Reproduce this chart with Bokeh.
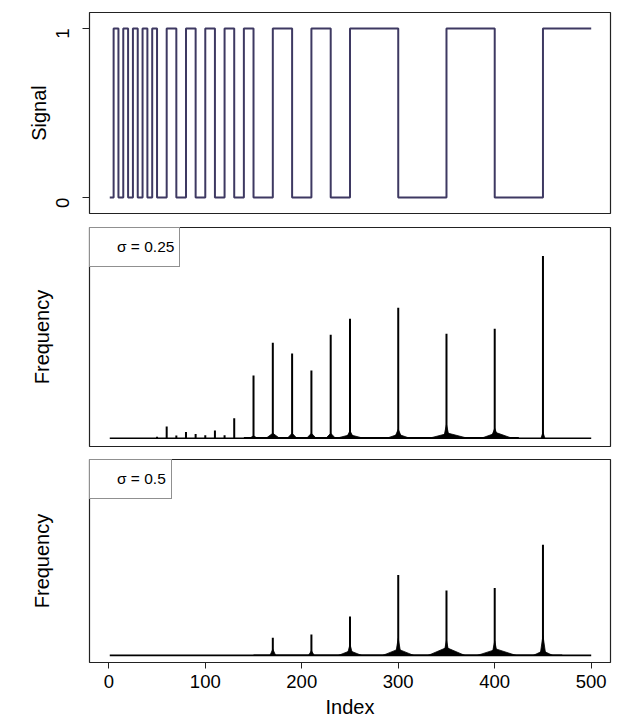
import numpy as np
from bokeh.plotting import figure
from bokeh.layouts import column
from bokeh.models import FixedTicker, Range1d, Legend, LegendItem
from bokeh.embed import file_html
from bokeh.resources import INLINE

# ---------------- data ----------------
# step signal: index where the level changes, and the level from that index on
signal_index = [1, 5, 10, 15, 20, 25, 30, 35, 40, 45, 50, 60, 70, 80, 90, 100, 110,
                120, 130, 140, 150, 170, 190, 210, 230, 250, 300, 350, 400, 450, 500]
signal_level = [0, 1, 0, 1, 0, 1, 0, 1, 0, 1, 0, 1, 0, 1, 0, 1, 0,
                1, 0, 1, 0, 1, 0, 1, 0, 1, 0, 1, 0, 1, 1]

index_ticks = [0, 100, 200, 300, 400, 500]
signal_ticks = [0, 1]
spectrum_span = [1, 500]

# sigma = 0.25 spectrum (arbitrary units)
peak_index_a = [50, 60, 70, 80, 90, 100, 110, 120, 130, 150, 170, 190, 210, 230,
                250, 300, 350, 400, 450]
peak_height_a = [1.5, 11.7, 2.7, 6.3, 4.3, 3.0, 7.7, 3.0, 20.0, 63.0, 96.0, 85.0,
                 68.0, 104.0, 120.0, 131.0, 105.0, 110.0, 183.0]
shoulder_index_a = [150, 170, 190, 210, 230, 250, 250, 300, 300, 350, 352, 400, 402, 450]
shoulder_halfwidth_a = [4, 7, 5, 5, 5, 4, 14, 4, 12, 3, 20, 4, 16, 2]
shoulder_height_a = [2.5, 5.0, 5.0, 5.0, 5.0, 7.5, 3.5, 9.0, 4.0, 14.0, 5.0, 10.0, 5.5, 6.0]
floor_a = [140, 425, 1.2]

# sigma = 0.5 spectrum (arbitrary units)
peak_index_b = [170, 210, 250, 300, 350, 400, 450]
peak_height_b = [18.1, 21.4, 39.8, 82.6, 66.5, 69.2, 113.4]
shoulder_index_b = [170, 210, 250, 250, 300, 300, 350, 350, 400, 402, 450, 450]
shoulder_halfwidth_b = [3, 3, 3, 12, 3, 16, 3, 19, 3, 20, 3, 10]
shoulder_height_b = [6.3, 4.7, 11.4, 4.7, 17.4, 6.4, 15.7, 8.0, 14.7, 6.4, 20.4, 4.7]
floor_b = [150, 470, 0.8]

FONT = "Liberation Sans"
LINE = "#222222"
SIGNAL_COLOR = "#3E3962"
x_range = Range1d(-20, 520)


def base_fig(height, top, bottom, y_range, x_axis):
    p = figure(width=616, height=height, x_range=x_range, y_range=y_range,
               output_backend="svg", toolbar_location=None,
               x_axis_location="below" if x_axis else None,
               min_border_left=89, min_border_right=6,
               min_border_top=top, min_border_bottom=bottom)
    p.xgrid.visible = False
    p.ygrid.visible = False
    p.outline_line_color = LINE
    p.outline_line_width = 1.2
    p.background_fill_color = "white"
    p.border_fill_color = "white"
    ax = p.yaxis[0]
    ax.axis_line_color = None
    ax.minor_tick_line_color = None
    ax.major_tick_in = 0
    ax.major_tick_line_color = LINE
    ax.major_label_text_font = FONT
    ax.major_label_text_font_size = "18.5px"
    ax.major_label_text_color = "black"
    ax.axis_label_text_font = FONT
    ax.axis_label_text_font_size = "20px"
    ax.axis_label_text_font_style = "normal"
    ax.axis_label_text_color = "black"
    return p


def spectrum(p, idx, hts, s_idx, s_hw, s_h, floor, label):
    xs = [[c - w, c, c + w] for c, w in zip(s_idx, s_hw)]
    ys = [[0, h, 0] for h in s_h]
    p.patches(xs, ys, fill_color="black", line_color="black", line_width=0.8)
    p.quad(left=[floor[0]], right=[floor[1]], bottom=[0], top=[floor[2]],
           fill_color="black", line_color=None)
    p.segment(x0=[spectrum_span[0]], y0=[0], x1=[spectrum_span[1]], y1=[0],
              line_color="black", line_width=1.6)
    p.segment(x0=idx, y0=[0] * len(idx), x1=idx, y1=hts,
              line_color="black", line_width=2)
    dummy = p.line(x=[], y=[], line_alpha=0)
    leg = Legend(items=[LegendItem(label=label, renderers=[dummy])],
                 location="top_left", margin=0, padding=5,
                 glyph_width=16, glyph_height=28, label_standoff=6,
                 border_line_color=LINE, border_line_width=1.2,
                 background_fill_color="white", background_fill_alpha=1,
                 label_text_font=FONT, label_text_font_size="15.5px",
                 label_text_color="black")
    p.add_layout(leg)
    ax = p.yaxis[0]
    ax.ticker = FixedTicker(ticks=[])
    ax.major_tick_out = 0
    ax.major_label_standoff = 0
    ax.axis_label = "Frequency"
    ax.axis_label_standoff = 37


# ---------------- top: signal ----------------
p1 = base_fig(220, 12, 7, Range1d(-0.094, 1.094), False)
p1.step(signal_index, signal_level, mode="after", line_color=SIGNAL_COLOR, line_width=2)
ay = p1.yaxis[0]
ay.ticker = FixedTicker(ticks=signal_ticks)
ay.major_tick_out = 7
ay.major_label_orientation = np.pi / 2
ay.major_label_standoff = 20
ay.axis_label = "Signal"
ay.axis_label_standoff = -3

# ---------------- middle: sigma 0.25 ----------------
p2 = base_fig(232, 7, 6, Range1d(-8.3, 211.7), False)
spectrum(p2, peak_index_a, peak_height_a, shoulder_index_a, shoulder_halfwidth_a,
         shoulder_height_a, floor_a, "σ = 0.25")

# ---------------- bottom: sigma 0.5 ----------------
p3 = base_fig(268, 7, 55, Range1d(-7.3, 201.0), True)
spectrum(p3, peak_index_b, peak_height_b, shoulder_index_b, shoulder_halfwidth_b,
         shoulder_height_b, floor_b, "σ = 0.5")
ax = p3.xaxis[0]
ax.ticker = FixedTicker(ticks=index_ticks)
ax.axis_line_color = None
ax.minor_tick_line_color = None
ax.major_tick_in = 0
ax.major_tick_out = 6
ax.major_tick_line_color = LINE
ax.major_label_standoff = 6
ax.major_label_text_font = FONT
ax.major_label_text_font_size = "18.5px"
ax.major_label_text_color = "black"
ax.axis_label = "Index"
ax.axis_label_standoff = 5
ax.axis_label_text_font = FONT
ax.axis_label_text_font_size = "20px"
ax.axis_label_text_font_style = "normal"
ax.axis_label_text_color = "black"

layout = column(p1, p2, p3, spacing=0)
open("out.html", "w").write(file_html(layout, INLINE))
